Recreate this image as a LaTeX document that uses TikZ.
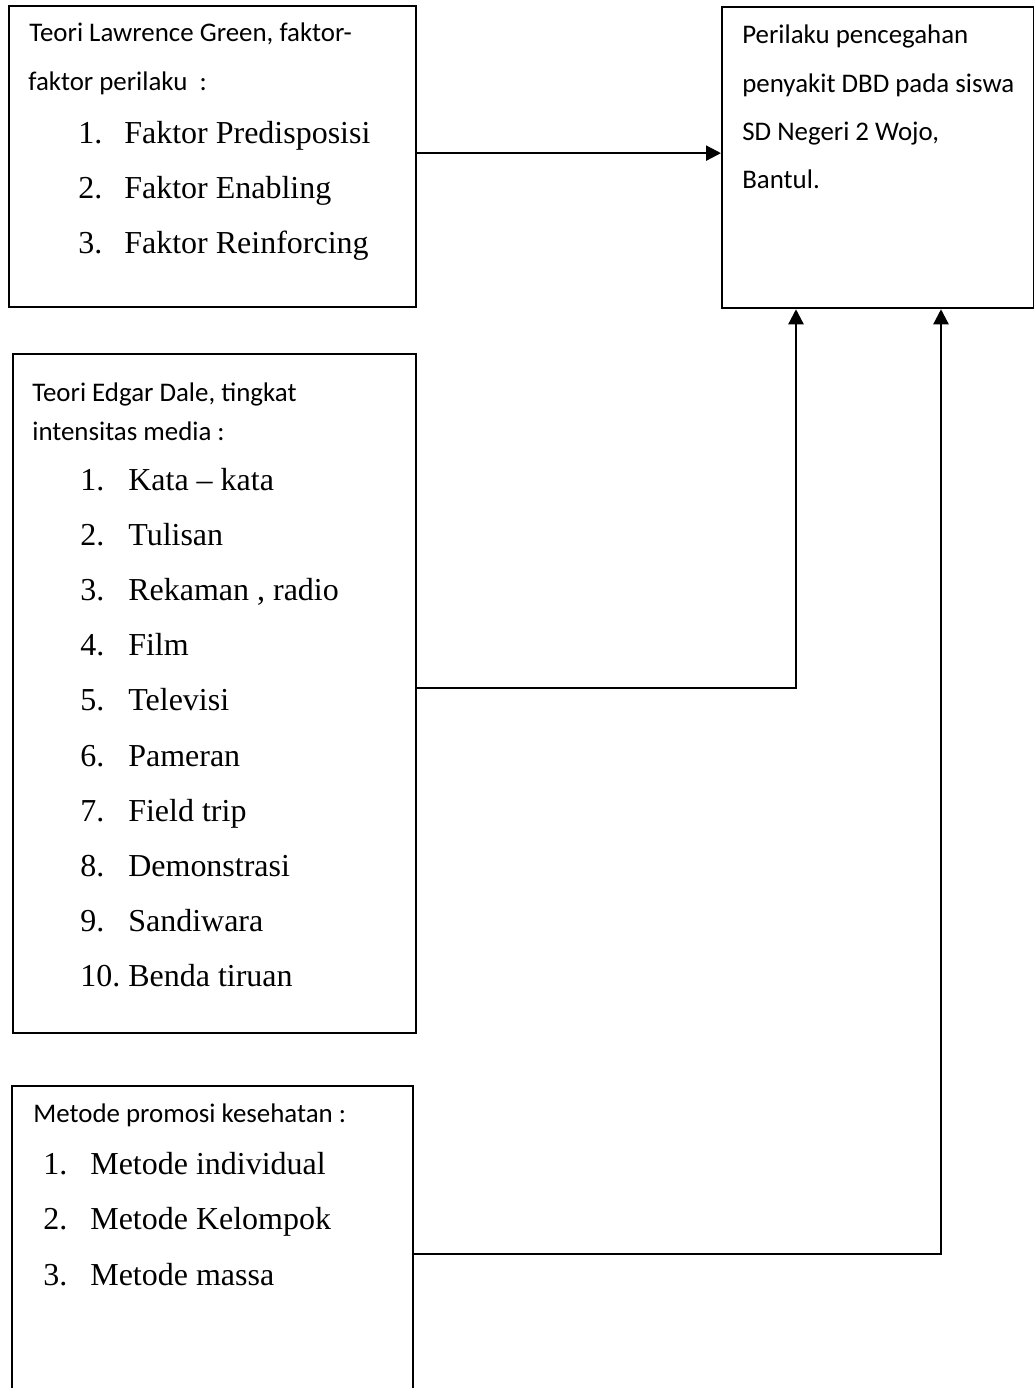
\documentclass[tikz,border=0pt]{standalone}
\usepackage{fontspec}
\usetikzlibrary{arrows.meta}
\newfontfamily\headfont{Carlito}
\newfontfamily\listfont{Liberation Serif}
\tikzset{
    box/.style={draw, line width=0.045cm, anchor=north west, inner sep=0pt},
    head/.style={anchor=base west, inner sep=0pt, font=\headfont\fontsize{15.3}{16}\selectfont},
    item/.style={anchor=base west, inner sep=0pt, font=\listfont\fontsize{18.2}{20}\selectfont},
    arr/.style={-{Triangle[length=0.30cm,width=0.30cm]}, line width=0.045cm}
}
\begin{document}
\begin{tikzpicture}
        \clip (0, 0) rectangle (20.68, -27.76);

        % boxes
        \node[box, minimum width=8.14cm, minimum height=6.02cm] (boxA) at (0.16, -0.10) {};
        \node[box, minimum width=6.23cm, minimum height=6.02cm] (boxB) at (14.42, -0.12) {};
        \node[box, minimum width=8.06cm, minimum height=13.58cm] (boxC) at (0.24, -7.06) {};
        \node[box, minimum width=8.02cm, minimum height=6.72cm] (boxD) at (0.22, -21.70) {};

        % Lawrence Green
        \node[head] (greenA) at (0.58, -0.82) {Teori Lawrence Green, faktor-};
        \node[head] (greenB) at (0.56, -1.80) {faktor perilaku\ \ :};
        \foreach \t [count=\n] in {Faktor Predisposisi, Faktor Enabling, Faktor Reinforcing}{
            \node[item] (green\n) at (1.56, {-2.86-1.10*(\n-1)}) {\makebox[0.92cm][l]{\n.}\t};
        };

        % target
        \node[head] (targetA) at (14.84, -0.86) {Perilaku pencegahan};
        \node[head] (targetB) at (14.84, -1.84) {penyakit DBD pada siswa};
        \node[head] (targetC) at (14.84, -2.80) {SD Negeri 2 Wojo,};
        \node[head] (targetD) at (14.84, -3.76) {Bantul.};

        % Edgar Dale
        \node[head] (edgarA) at (0.64, -8.02) {Teori Edgar Dale, tingkat};
        \node[head] (edgarB) at (0.64, -8.80) {intensitas media :};
        \foreach \t [count=\n] in {Kata – kata, Tulisan, {Rekaman , radio}, Film, Televisi,
                Pameran, Field trip, Demonstrasi, Sandiwara, Benda tiruan}{
            \node[item] (edgar\n) at (1.60, {-9.80-1.104*(\n-1)}) {\makebox[0.96cm][l]{\n.}\t};
        };

        % metode
        \node[head] (metodeA) at (0.66, -22.44) {Metode promosi kesehatan :};
        \foreach \t [count=\n] in {Metode individual, Metode Kelompok, Metode massa}{
            \node[item] (metode\n) at (0.86, {-23.48-1.11*(\n-1)}) {\makebox[0.94cm][l]{\n.}\t};
        };

        % connectors
        \coordinate (aOut) at ([yshift=0.07cm]boxA.east);
        \coordinate (cOut) at ([yshift=0.11cm]boxC.east);
        \coordinate (bInC) at ([xshift=1.50cm]boxB.south west);
        \coordinate (bInD) at ([xshift=4.40cm]boxB.south west);
        \draw[arr] (aOut) -- (aOut -| boxB.west);
        \draw[arr] (cOut) -| (bInC);
        \draw[arr] (boxD.east) -| (bInD);
    \end{tikzpicture}
\end{document}
